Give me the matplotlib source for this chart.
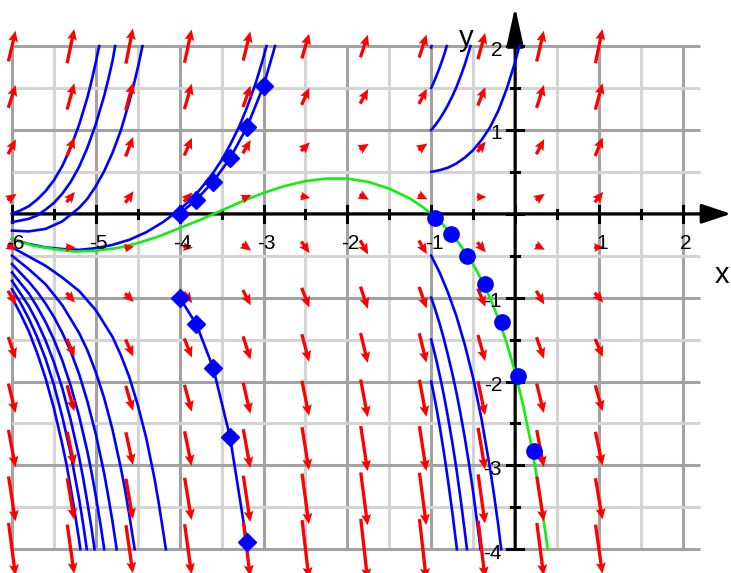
"""Direction field with solution curves, redrawn from the reference picture.

    python plot.py
"""

import numpy as np
import matplotlib
matplotlib.use("Agg")
import matplotlib.pyplot as plt

plt.rcParams["font.family"] = ["Liberation Sans", "DejaVu Sans"]

# arrow centres of the direction field
field_x = [-6.0, -5.3, -4.6, -3.9, -3.2, -2.5, -1.8, -1.1, -0.4, 0.3, 1.0]
field_y = [2.0, 1.4, 0.8, 0.2, -0.4, -1.0, -1.6, -2.2, -2.8, -3.4, -4.0]
# slope of the arrows: a part set by the row plus a part set by the column
row_slope = [4.0, 2.8, 1.6, 0.4, -0.8, -2.0, -3.2, -4.4, -5.6, -6.8, -8.0]
col_offset = [0.28, 0.83, 0.99, 0.69, 0.06, -0.60, -0.97, -0.89, -0.39, 0.30, 0.84]

# blue solution curves starting at x = -6, rising
upper_left = [
    ([-6, -5.9, -5.8, -5.7, -5.6, -5.5, -5.4, -5.3, -5.2, -5.1, -5.05, -5.0, -4.96],
     [0, 0.04, 0.09, 0.17, 0.27, 0.40, 0.57, 0.79, 1.06, 1.39, 1.59, 1.81, 2.0]),
    ([-6, -5.8, -5.7, -5.6, -5.5, -5.4, -5.3, -5.2, -5.1, -5.0, -4.9, -4.85, -4.8, -4.77],
     [-0.1, -0.06, -0.02, 0.05, 0.13, 0.24, 0.38, 0.56, 0.79, 1.07, 1.41, 1.61, 1.83, 2.0]),
    ([-6, -5.8, -5.6, -5.4, -5.2, -5.1, -5.0, -4.9, -4.8, -4.7, -4.6, -4.55, -4.5, -4.444],
     [-0.2, -0.21, -0.18, -0.09, 0.07, 0.18, 0.33, 0.51, 0.73, 1.0, 1.34, 1.53, 1.74, 2.0]),
    ([-6, -5.8, -5.6, -5.4, -5.2, -5.0, -4.8, -4.6, -4.4, -4.2, -4.0, -3.9, -3.8, -3.7,
      -3.6, -3.5, -3.4, -3.3, -3.2, -3.1, -3.05, -3.0, -2.965],
     [-0.30, -0.36, -0.40, -0.42, -0.43, -0.41, -0.37, -0.31, -0.22, -0.10, 0.05, 0.14,
      0.24, 0.36, 0.49, 0.64, 0.82, 1.02, 1.26, 1.54, 1.70, 1.87, 2.0]),
]

# blue solution curves starting at x = -6, falling
lower_left = [
    ([-6, -5.8, -5.6, -5.4, -5.2, -5.0, -4.8, -4.7, -4.6, -4.5, -4.4, -4.3, -4.25, -4.2, -4.165],
     [-0.40, -0.51, -0.62, -0.76, -0.92, -1.15, -1.47, -1.69, -1.95, -2.28, -2.67, -3.16, -3.45, -3.77, -4.0]),
    ([-6, -5.8, -5.6, -5.4, -5.2, -5.1, -5.0, -4.9, -4.8, -4.7, -4.65, -4.6, -4.55, -4.537],
     [-0.50, -0.66, -0.84, -1.09, -1.42, -1.63, -1.89, -2.20, -2.58, -3.04, -3.30, -3.60, -3.92, -4.0]),
    ([-6, -5.8, -5.7, -5.6, -5.5, -5.4, -5.3, -5.2, -5.1, -5.0, -4.9, -4.85, -4.8, -4.752],
     [-0.60, -0.81, -0.93, -1.07, -1.23, -1.42, -1.64, -1.91, -2.24, -2.63, -3.10, -3.38, -3.68, -4.0]),
    ([-6, -5.8, -5.7, -5.6, -5.5, -5.4, -5.3, -5.2, -5.1, -5.05, -5.0, -4.95, -4.9],
     [-0.70, -0.95, -1.11, -1.29, -1.50, -1.75, -2.05, -2.41, -2.84, -3.09, -3.37, -3.67, -4.0]),
    ([-6, -5.8, -5.7, -5.6, -5.5, -5.4, -5.3, -5.2, -5.15, -5.1, -5.05, -5.016],
     [-0.80, -1.10, -1.29, -1.51, -1.77, -2.08, -2.46, -2.90, -3.16, -3.45, -3.76, -4.0]),
    ([-6, -5.9, -5.8, -5.7, -5.6, -5.5, -5.4, -5.3, -5.2, -5.15, -5.108],
     [-0.90, -1.06, -1.25, -1.47, -1.73, -2.04, -2.42, -2.86, -3.40, -3.71, -4.0]),
    ([-6, -5.9, -5.8, -5.7, -5.6, -5.5, -5.4, -5.35, -5.3, -5.25, -5.2, -5.185],
     [-1.00, -1.19, -1.40, -1.66, -1.96, -2.32, -2.75, -2.99, -3.27, -3.57, -3.89, -4.0]),
]

# blue solution curves starting at x = -1
upper_right = [
    ([-1, -0.9, -0.8, -0.7, -0.6, -0.5, -0.4, -0.3, -0.2, -0.1, 0, 0.05],
     [0.5, 0.52, 0.55, 0.60, 0.67, 0.76, 0.88, 1.03, 1.23, 1.49, 1.81, 2.0]),
    ([-1, -0.95, -0.9, -0.85, -0.8, -0.75, -0.7, -0.65, -0.6, -0.55, -0.532],
     [1.0, 1.06, 1.13, 1.21, 1.30, 1.40, 1.51, 1.64, 1.78, 1.94, 2.0]),
    ([-1, -0.95, -0.9, -0.85, -0.815],
     [1.5, 1.615, 1.743, 1.886, 2.0]),
    ([-1.0, -0.996],
     [1.985, 2.0]),
]

lower_right = [
    ([-1, -0.95, -0.9, -0.8, -0.7, -0.6, -0.5, -0.4, -0.3, -0.25, -0.2, -0.166],
     [-0.5, -0.60, -0.70, -0.94, -1.22, -1.56, -1.96, -2.45, -3.03, -3.36, -3.72, -4.0]),
    ([-1, -0.95, -0.9, -0.85, -0.8, -0.75, -0.7, -0.65, -0.6, -0.55, -0.5, -0.45, -0.412],
     [-1.0, -1.15, -1.31, -1.49, -1.69, -1.90, -2.13, -2.39, -2.67, -2.98, -3.32, -3.70, -4.0]),
    ([-1, -0.95, -0.9, -0.85, -0.8, -0.75, -0.7, -0.65, -0.6, -0.574],
     [-1.5, -1.70, -1.92, -2.16, -2.43, -2.72, -3.04, -3.40, -3.79, -4.0]),
    ([-1, -0.95, -0.9, -0.85, -0.8, -0.75, -0.7, -0.694],
     [-2.0, -2.25, -2.53, -2.84, -3.18, -3.55, -3.95, -4.0]),
]

# numerical steps marked with diamonds
diamond_up_x = [-4.0, -3.8, -3.6, -3.4, -3.2, -3.0]
diamond_up_y = [0.0, 0.17, 0.385, 0.66, 1.03, 1.525]
diamond_up_end = (-2.863, 2.0)
diamond_down_x = [-4.0, -3.8, -3.6, -3.4, -3.2]
diamond_down_y = [-1.0, -1.32, -1.84, -2.66, -3.92]

# numerical steps marked with dots
dots_x = [-0.96, -0.77, -0.57, -0.36, -0.16, 0.03, 0.23]
dots_y = [-0.05, -0.24, -0.50, -0.84, -1.29, -1.93, -2.83]

# green curve
green_x = [-6, -5.75, -5.5, -5.25, -5, -4.75, -4.5, -4.25, -4, -3.75, -3.5, -3.25, -3,
           -2.75, -2.5, -2.25, -2, -1.75, -1.5, -1.25, -1.1, -1, -0.9, -0.8, -0.7, -0.6,
           -0.5, -0.4, -0.3, -0.2, -0.1, 0, 0.1, 0.2, 0.3, 0.39]
green_y = [-0.30, -0.38, -0.42, -0.45, -0.44, -0.41, -0.35, -0.27, -0.17, -0.07, 0.04,
           0.15, 0.25, 0.33, 0.39, 0.42, 0.42, 0.38, 0.30, 0.18, 0.08, 0.0, -0.09, -0.19,
           -0.31, -0.45, -0.60, -0.79, -1.00, -1.25, -1.54, -1.89, -2.30, -2.79, -3.38, -4.0]

x_ticklabels = [-6, -5, -4, -3, -2, -1, 1, 2]
y_ticklabels = [-4, -3, -2, -1, 1, 2]

PX = 83.85  # pixels per unit


def main():
    fig = plt.figure(figsize=(7.31, 5.73), dpi=100)
    ax = fig.add_axes([0, 0, 1, 1])
    ax.set_xlim(-6 - 12 / PX, -6 + 719 / PX)
    ax.set_ylim((213.8 - 573) / PX, 213.8 / PX)
    ax.axis("off")

    # grid
    halves = np.arange(-12, 5) / 2
    for gx in halves:
        col = "#a2a2a2" if gx == int(gx) else "#d4d4d4"
        ax.vlines(gx, -4, 2, color=col, lw=2.2, zorder=1)
    for gy in np.arange(-8, 5) / 2:
        col = "#a2a2a2" if gy == int(gy) else "#d4d4d4"
        ax.hlines(gy, -6, 2.2, color=col, lw=2.2, zorder=1)

    # axes with arrow heads
    ax.annotate("", xy=(-6 + 719 / PX, 0), xytext=(-6, 0),
                arrowprops=dict(arrowstyle="-|>,head_length=0.9,head_width=0.3",
                                color="black", lw=2.2, shrinkA=0, shrinkB=0,
                                mutation_scale=20), zorder=2)
    ax.annotate("", xy=(0, 2.47), xytext=(0, -4),
                arrowprops=dict(arrowstyle="-|>,head_length=1.2,head_width=0.26",
                                color="black", lw=2.2, shrinkA=0, shrinkB=0,
                                mutation_scale=20), zorder=2)
    for t in halves:
        h = 8 / PX if t == int(t) else 4 / PX
        ax.plot([t, t], [-h, h], color="black", lw=2.2, zorder=2)
    for t in np.arange(-8, 5) / 2:
        h = 8 / PX if t == int(t) else 4 / PX
        ax.plot([-h, h], [t, t], color="black", lw=2.2, zorder=2)

    for v in x_ticklabels:
        ax.text(v + 3 / PX, -0.35, str(v), ha="center", va="center", fontsize=15, zorder=6)
    for v in y_ticklabels:
        ax.text(-0.156, v - 4 / PX, str(v), ha="right", va="center", fontsize=15, zorder=6)
    ax.text(2.467, -0.73, "x", ha="center", va="center", fontsize=21, zorder=6)
    ax.text(-0.586, 2.10, "y", ha="center", va="center", fontsize=21, zorder=6)

    # solution curves
    for xs, ys in upper_left + lower_left + upper_right + lower_right:
        ax.plot(xs, ys, color="#0000ff", lw=1.9, zorder=3)
    ax.plot(green_x, green_y, color="#11ee11", lw=1.9, zorder=3.5)
    ax.plot(diamond_up_x + [diamond_up_end[0]], diamond_up_y + [diamond_up_end[1]],
            color="#0000ff", lw=1.9, zorder=3)
    ax.plot(diamond_down_x, diamond_down_y, color="#0000ff", lw=1.9, zorder=3)

    # direction field: arrows centred on the grid, longer where steeper
    gx, gy = np.meshgrid(field_x, field_y)
    slope = np.add.outer(row_slope, col_offset)
    norm = np.hypot(1, slope)
    length = (3.2 + 6.4 * norm) / PX
    u = length / norm
    v = length * slope / norm
    ax.quiver(gx, gy, u, v, angles="xy", scale_units="xy", scale=1, pivot="mid",
              units="dots", width=3.3, headwidth=3.0, headlength=3.3,
              headaxislength=2.9, color="#ff0000", zorder=4)

    ax.plot(diamond_up_x, diamond_up_y, "D", color="#0000ff", ms=9, zorder=5)
    ax.plot(diamond_down_x, diamond_down_y, "D", color="#0000ff", ms=9, zorder=5)
    ax.plot(dots_x, dots_y, "o", color="#0000ff", ms=11, zorder=5)

    fig.savefig("out.png", dpi=100)


if __name__ == "__main__":
    main()
